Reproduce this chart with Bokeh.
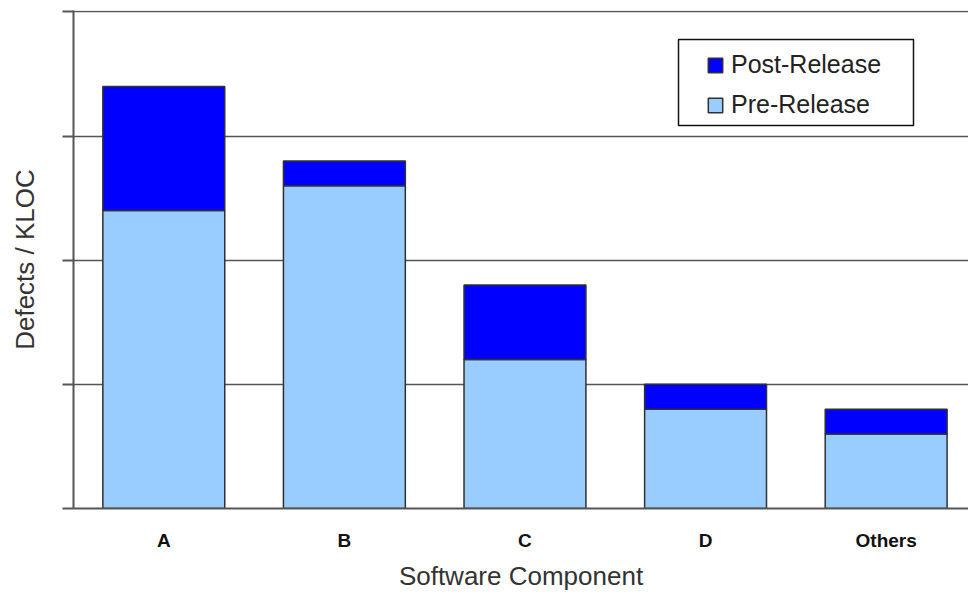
from bokeh.plotting import figure
from bokeh.models import (ColumnDataSource, Range1d, FixedTicker, CustomJSTickFormatter,
                          Legend, LegendItem, BoxAnnotation)
from bokeh.embed import file_html
from bokeh.resources import INLINE

categories = ["A", "B", "C", "D", "Others"]
pre_release = [2.40, 2.60, 1.20, 0.80, 0.60]
post_release = [1.00, 0.20, 0.60, 0.20, 0.20]
y_ticks = [0, 1, 2, 3, 4]

xpos = [i + 0.5 for i in range(len(categories))]
source = ColumnDataSource(data=dict(x=xpos, pre=pre_release, post=post_release))

p = figure(width=968, height=593, output_backend="svg", toolbar_location=None,
           x_range=Range1d(0, 4.956), y_range=Range1d(0, 4.012),
           min_border_left=73, min_border_top=10, min_border_right=0, min_border_bottom=85)
p.outline_line_color = None
p.background_fill_color = "white"
p.border_fill_color = "white"

r = p.vbar_stack(["pre", "post"], x="x", width=0.675, source=source,
                 color=["#99CCFF", "#0000FF"], line_color="#303030", line_width=1.5)

# axes
p.xaxis.ticker = FixedTicker(ticks=xpos)
p.xaxis.major_label_overrides = {x: c for x, c in zip(xpos, categories)}
p.xaxis.major_tick_out = 0
p.xaxis.major_tick_in = 0
p.xaxis.minor_tick_out = 0
p.xaxis.minor_tick_in = 0
p.xaxis.axis_line_color = "#555555"
p.xaxis.axis_line_width = 2
p.xaxis.major_label_text_font = "Liberation Sans"
p.xaxis.major_label_text_font_style = "bold"
p.xaxis.major_label_text_font_size = "19px"
p.xaxis.major_label_text_color = "#111111"
p.xaxis.major_label_standoff = 21
p.xaxis.axis_label = "Software Component"
p.xaxis.axis_label_text_font = "Liberation Sans"
p.xaxis.axis_label_text_font_style = "normal"
p.xaxis.axis_label_text_font_size = "26px"
p.xaxis.axis_label_text_color = "#333333"
p.xaxis.axis_label_standoff = 7

p.yaxis.ticker = FixedTicker(ticks=y_ticks)
p.yaxis.formatter = CustomJSTickFormatter(code="return ''")
p.yaxis.major_tick_out = 11
p.yaxis.major_tick_in = 0
p.yaxis.minor_tick_out = 0
p.yaxis.minor_tick_in = 0
p.yaxis.major_tick_line_color = "#555555"
p.yaxis.major_tick_line_width = 2
p.yaxis.axis_line_color = "#555555"
p.yaxis.axis_line_width = 2
p.yaxis.major_label_standoff = 0
p.yaxis.axis_label = "Defects / KLOC"
p.yaxis.axis_label_text_font = "Liberation Sans"
p.yaxis.axis_label_text_font_style = "normal"
p.yaxis.axis_label_text_font_size = "26px"
p.yaxis.axis_label_text_color = "#333333"
p.yaxis.axis_label_standoff = 23

p.xgrid.grid_line_color = None
p.ygrid.ticker = FixedTicker(ticks=y_ticks)
p.ygrid.grid_line_color = "#555555"
p.ygrid.grid_line_width = 1.5

# legend frame
box = BoxAnnotation(left=678, right=913, top=39, bottom=125,
                    left_units="canvas", right_units="canvas",
                    top_units="canvas", bottom_units="canvas",
                    fill_color="white", fill_alpha=1.0,
                    line_color="#111111", line_alpha=1.0, line_width=1.5,
                    level="annotation")
p.add_layout(box)

legend = Legend(items=[LegendItem(label="Post-Release", renderers=[r[1]]),
                       LegendItem(label="Pre-Release", renderers=[r[0]])],
                location=(628, 384))
legend.border_line_alpha = 0
legend.background_fill_alpha = 0
legend.padding = 5
legend.margin = 0
legend.glyph_width = 18
legend.glyph_height = 18
legend.label_standoff = 7
legend.label_height = 26
legend.spacing = 11
legend.label_text_font = "Liberation Sans"
legend.label_text_font_size = "25px"
legend.label_text_color = "#222222"
p.add_layout(legend, "center")

open("out.html", "w").write(file_html(p, INLINE))
